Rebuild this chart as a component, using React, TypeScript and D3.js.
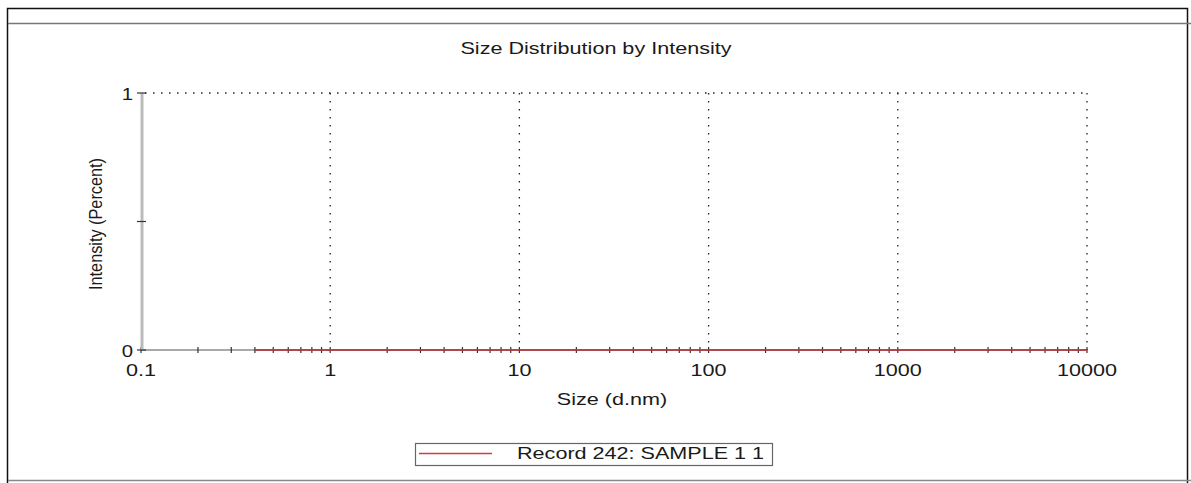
import React, { useEffect, useRef } from 'react';
import * as d3 from 'd3';

// size (d.nm) and intensity (%) of the record
const sizeNm = [0.4, 0.5, 0.6, 0.8, 1, 2, 4, 6, 10, 20, 40, 60, 100, 200, 400, 600, 1000, 2000, 4000, 6000, 10000];
const intensity = [0, 0, 0, 0, 0, 0, 0, 0, 0, 0, 0, 0, 0, 0, 0, 0, 0, 0, 0, 0, 0];
const xMajor = [0.1, 1, 10, 100, 1000, 10000];
const yTicks = [0, 0.5, 1];
const yLabels = ['0', '', '1'];
const legendLabel = 'Record 242: SAMPLE 1 1';

const W = 1191;
const H = 483;
const FONT = '"Liberation Sans", Arial, sans-serif';
const SX = 1.27; // the original picture is stretched sideways

const App: React.FC = () => {
  const ref = useRef<SVGSVGElement | null>(null);

  useEffect(() => {
    const svg = d3.select(ref.current);
    svg.selectAll('*').remove();

    const label = (x: number, y: number, txt: string, anchor = 'middle', size = 17) => {
      svg.append('g').attr('transform', `translate(${x},${y}) scale(${SX},1)`)
        .append('text').attr('text-anchor', anchor)
        .style('font-family', FONT).style('font-size', `${size}px`).attr('fill', '#1a1a1a')
        .text(txt);
    };

    // frame
    svg.append('rect').attr('x', 7.5).attr('y', 8.5).attr('width', 1180).attr('height', 480).attr('fill', 'none').attr('stroke', '#111').attr('stroke-width', 1.5);
    svg.append('line').attr('x1', 8).attr('x2', W).attr('y1', 23.5).attr('y2', 23.5).attr('stroke', '#777').attr('stroke-width', 1.5);
    svg.append('line').attr('x1', 8).attr('x2', W).attr('y1', 480.5).attr('y2', 480.5).attr('stroke', '#888').attr('stroke-width', 1.5);

    const x = d3.scaleLog().domain([0.1, 10000]).range([141, 1087]);
    const y = d3.scaleLinear().domain([0, 1]).range([350, 93]);

    label(596, 54, 'Size Distribution by Intensity');

    // grid
    const grid = svg.append('g').attr('stroke', '#222').attr('stroke-width', 1.3).attr('stroke-dasharray', '1.5,6.5');
    grid.append('line').attr('x1', x(0.1) + 4).attr('x2', x(10000)).attr('y1', y(1)).attr('y2', y(1));
    xMajor.slice(1).forEach((v) => {
      grid.append('line').attr('x1', x(v)).attr('x2', x(v)).attr('y1', y(1)).attr('y2', y(0));
    });

    // x axis
    const minor: number[] = [];
    xMajor.slice(0, -1).forEach((d) => { for (let k = 2; k <= 9; k++) minor.push(d * k); });
    const xa = svg.append('g').attr('transform', `translate(0,${y(0)})`);
    xa.append('line').attr('x1', x(0.1)).attr('x2', x(10000)).attr('stroke', '#555').attr('stroke-width', 1.2);
    xa.selectAll('.tk').data([...xMajor, ...minor]).enter().append('line')
      .attr('x1', (d) => x(d)).attr('x2', (d) => x(d)).attr('y1', -3).attr('y2', 3)
      .attr('stroke', '#333').attr('stroke-width', 1.2);
    xMajor.forEach((d) => label(x(d), 376, String(d)));

    // red series
    const line = d3.line<number>().x((d) => x(d)).y((_, i) => y(intensity[i]));
    svg.append('path').attr('d', line(sizeNm)).attr('fill', 'none').attr('stroke', '#b03838').attr('stroke-width', 2.2).attr('opacity', 0.85);

    // y axis
    svg.append('line').attr('x1', x(0.1) + 1).attr('x2', x(0.1) + 1).attr('y1', y(1)).attr('y2', y(0))
      .attr('stroke', '#bbb').attr('stroke-width', 3);
    svg.selectAll('.ytk').data(yTicks).enter().append('line')
      .attr('x1', x(0.1) - 4).attr('x2', x(0.1) + 5).attr('y1', (d) => y(d)).attr('y2', (d) => y(d))
      .attr('stroke', '#333').attr('stroke-width', 1.2);
    yTicks.forEach((d, i) => label(133, y(d) + 7, yLabels[i], 'end', 16));

    svg.append('g').attr('transform', `translate(102,224) scale(${SX},1) rotate(-90)`)
      .append('text').attr('text-anchor', 'middle')
      .style('font-family', FONT).style('font-size', '15px').attr('fill', '#1a1a1a')
      .attr('textLength', 132).attr('lengthAdjust', 'spacingAndGlyphs')
      .text('Intensity (Percent)');

    label(612, 405, 'Size (d.nm)');

    // legend
    svg.append('rect').attr('x', 415.5).attr('y', 443.5).attr('width', 357).attr('height', 22)
      .attr('fill', '#fff').attr('stroke', '#666').attr('stroke-width', 1.2);
    svg.append('line').attr('x1', 419).attr('x2', 492).attr('y1', 453.5).attr('y2', 453.5).attr('stroke', '#d43c3c').attr('stroke-width', 1.3);
    label(517, 459, legendLabel, 'start');
  }, []);

  return (
    <svg ref={ref} width={W} height={H} style={{ position: 'absolute', left: 0, top: 0, background: '#fff' }} />
  );
};

export default App;
